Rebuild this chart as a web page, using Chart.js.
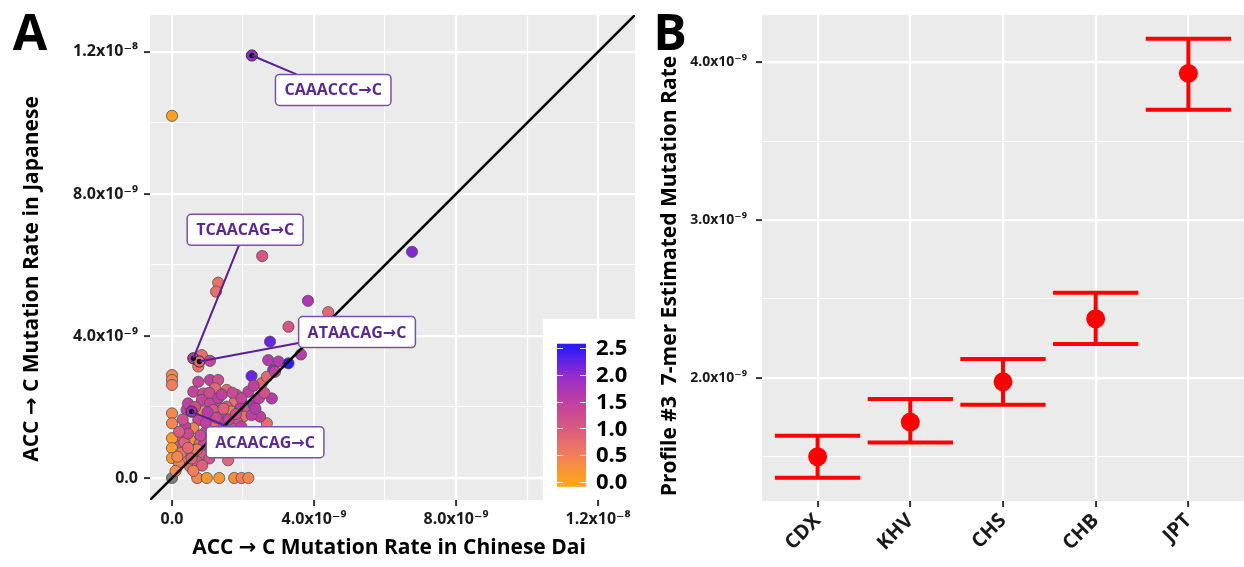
<!DOCTYPE html>
<html>
<head>
<meta charset="utf-8">
<script src="https://cdn.jsdelivr.net/npm/chart.js@4.4.0/dist/chart.umd.min.js"></script>
<style>
  html, body { margin: 0; padding: 0; background: #fff; }
  #wrap { position: relative; width: 1244px; height: 567px; overflow: hidden; }
  #panelA { position: absolute; left: 0; top: 0; }
  #panelB { position: absolute; left: 645px; top: 0; }
</style>
</head>
<body>
<div id="wrap">
  <canvas id="panelA" width="645" height="567" style="width:645px;height:567px"></canvas>
  <canvas id="panelB" width="599" height="567" style="width:599px;height:567px"></canvas>
</div>
<script>
// ---------- Panel A data (rates in units of 1e-9) ----------
const daiRate = [0, 6.76, 2.54, 1.30, 1.24, 3.83, 4.40, 3.28, 2.76, 0.84, 1.07, 0.74, 2.71, 3.00, 3.28, 3.63,
  2.85, 2.24, 2.53, 2.67, 2.15, 2.81, 2.90, 0, 0, 0, 0.74, 1.07, 1.30, 1.21, 1.54, 0.60, 0.88, 0.84, 1.07,
  1.30, 1.82, 1.77, 2.01, 1.54, 1.35, 1.16, 0.88, 0.41, 0.74, 1.07, 1.45, 1.68, 1.92, 2.15, 2.01, 1.82, 1.40,
  1.16, 0.60, 0.37, 0.27, 0.51, 0.79, 0.18, 0.41, 0.60, 0.84, 0.32, 0.51, 0.70, 0, 0, 0, 0, 0, 0,
  0.71, 0.98, 1.33, 1.75, 1.96, 2.15, 2.67, 2.48, 2.24, 1.25, 1.50, 1.70, 1.95, 1.60, 1.10, 0.95, 0.90, 1.05,
  0.35, 0.45, 0.20, 0.55, 0.25, 0.95, 1.25, 1.60, 1.80, 2.30, 2.45, 2.35, 1.95, 1.70, 1.40, 0.45, 0.65, 1.00,
  0.80, 0.70, 0.45, 0.20, 0.85, 1.45, 1.05, 2.30, 2.60, 0.30, 0.10, 0.15, 0.60, 1.58];
const jptRate = [10.2, 6.37, 6.25, 5.50, 5.25, 4.99, 4.67, 4.26, 3.84, 3.46, 3.30, 3.14, 3.32, 3.28, 3.23, 3.48,
  3.04, 2.87, 2.67, 2.85, 2.43, 2.24, 2.99, 2.90, 2.76, 2.62, 2.71, 2.76, 2.76, 2.53, 2.48, 2.43, 2.38, 2.20, 2.10,
  2.25, 2.34, 2.15, 2.06, 2.01, 1.96, 1.92, 1.87, 1.92, 1.63, 1.68, 1.77, 1.87, 1.96, 1.96, 1.73, 1.59, 1.54,
  1.45, 1.40, 1.45, 1.16, 1.07, 0.98, 0.88, 0.70, 0.79, 0.65, 0.51, 0.32, 0.46, 1.82, 1.54, 1.12, 0.84, 0.56, 0,
  0, 0, 0, 0, 0, 0, 1.54, 1.73, 1.77, 1.30, 1.25, 1.40, 1.45, 1.05, 1.15, 1.30, 0.95, 0.55,
  1.00, 1.25, 0.40, 0.55, 0.70, 1.55, 1.70, 1.65, 1.80, 2.05, 2.25, 1.95, 2.25, 2.40, 2.35, 2.10, 2.00, 1.85,
  1.20, 0.80, 0.85, 1.30, 0.35, 1.95, 2.40, 2.60, 2.40, 1.65, 0.20, 0.60, 0.20, 0.50];
// colour-bar value for each point (null = missing, drawn grey)
const colorVal = [0.05, 2.1, 1.1, 0.7, 0.7, 1.7, 0.8, 1.1, 2.2, 0.7, 1.4, 0.7, 1.6, 1.6, 2.5, 1.6,
  2.0, 2.2, 0.8, 0.8, 1.5, 1.6, 1.5, 0.4, 0.4, 0.5, 1.4, 1.5, 1.2, 0.8, 0.8, 1.4, 1.3, 1.4, 1.4,
  1.5, 1.1, 0.7, 1.6, 1.1, 1.4, 1.1, 0.4, 1.5, 1.4, 1.1, 1.6, 0.4, 1.6, 1.1, 0.7, 1.1, 1.5,
  0.7, 0.4, 1.5, 1.1, 0.3, 0.8, 1.1, 1.0, 1.4, 1.0, 0.7, 0.7, 1.0, 0.4, 0.4, 0.1, 0.1, 0.2, null,
  0.4, 0.2, 0.2, 0.3, 0.5, 0.4, 0.7, 1.5, 1.5, 1.2, 1.4, 1.2, 1.5, 1.3, 1.4, 1.2, 1.3, 1.1,
  0.9, 1.3, 0.5, 0.9, 0.6, 1.5, 1.3, 1.4, 1.2, 1.7, 1.5, 1.6, 1.4, 1.3, 1.5, 1.5, 1.2, 1.6,
  1.3, 0.5, 0.8, 1.0, 0.9, 0.9, 1.3, 1.5, 1.2, 1.2, 0.3, 0.4, 0.5, 0.8];

// labelled 7-mers
const labelNames = ['CAAACCC→C', 'TCAACAG→C', 'ATAACAG→C', 'ACAACAG→C'];
const labDai = [2.25, 0.60, 0.77, 0.55];
const labJpt = [11.9, 3.37, 3.28, 1.87];
const labColor = [2.0, 1.6, 0.8, 1.9];
// where the repelled label boxes sit (data units)
const labelDai = [4.54, 2.06, 5.21, 2.62];
const labelJpt = [10.93, 6.99, 4.11, 1.01];

const axisAMin = -0.62, axisAMax = 13.04;
const axisATicks = [0, 4, 8, 12];
const axisATickLabels = ['0.0', '4.0x10⁻⁹', '8.0x10⁻⁹', '1.2x10⁻⁸'];
const axisAMinor = [2, 6, 10];

const legendTicks = [0, 0.5, 1.0, 1.5, 2.0, 2.5];
const legendLabels = ['0.0', '0.5', '1.0', '1.5', '2.0', '2.5'];

// ---------- Panel B data ----------
const populations = ['CDX', 'KHV', 'CHS', 'CHB', 'JPT'];
const rateMean = [1.50, 1.72, 1.975, 2.375, 3.93];
const rateLow = [1.367, 1.59, 1.83, 2.215, 3.70];
const rateHigh = [1.633, 1.867, 2.12, 2.54, 4.15];
const axisBTicks = [2, 3, 4];
const axisBTickLabels = ['2.0x10⁻⁹', '3.0x10⁻⁹', '4.0x10⁻⁹'];
const axisBMinor = [1.5, 2.5, 3.5];

// ---------- styling ----------
const FONT = '"Open Sans", "DejaVu Sans", sans-serif';
const colorStops = [
    [0.0, [255, 164, 28]],
    [0.5, [243, 126, 92]],
    [1.0, [218, 90, 128]],
    [1.5, [192, 64, 162]],
    [2.0, [146, 44, 206]],
    [2.5, [46, 26, 250]]
];

function colorFor(v) {
    if (v === null) return '#7f7f7f';
    if (v <= colorStops[0][0]) return 'rgb(' + colorStops[0][1].join(',') + ')';
    for (let i = 1; i < colorStops.length; i++) {
        if (v <= colorStops[i][0]) {
            const [a, ca] = colorStops[i - 1];
            const [b, cb] = colorStops[i];
            const t = (v - a) / (b - a);
            const c = ca.map((k, j) => Math.round(k + (cb[j] - k) * t));
            return 'rgb(' + c.join(',') + ')';
        }
    }
    return 'rgb(' + colorStops[colorStops.length - 1][1].join(',') + ')';
}

// grey panel background
const panelBg = {
    id: 'panelBg',
    beforeDraw(chart) {
        const {ctx, chartArea: a} = chart;
        ctx.save();
        ctx.fillStyle = '#ebebeb';
        ctx.fillRect(a.left, a.top, a.right - a.left, a.bottom - a.top);
        ctx.restore();
    }
};

// axis titles and panel letters
const textItems = {
    id: 'textItems',
    afterDraw(chart, args, opts) {
        const ctx = chart.ctx;
        ctx.save();
        ctx.fillStyle = '#000';
        ctx.textAlign = 'center';
        ctx.textBaseline = 'middle';
        for (const it of opts.items) {
            ctx.save();
            ctx.font = it.font;
            ctx.translate(it.x, it.y);
            ctx.rotate(it.rot || 0);
            ctx.fillText(it.text, 0, 0);
            ctx.restore();
        }
        ctx.restore();
    }
};

// repel labels + colour bar for panel A
const overlayA = {
    id: 'overlayA',
    afterDatasetsDraw(chart) {
        const {ctx, scales: {x, y}, chartArea} = chart;
        ctx.save();
        ctx.font = 'bold 16px ' + FONT;
        labelNames.forEach((name, i) => {
            const px = x.getPixelForValue(labDai[i]), py = y.getPixelForValue(labJpt[i]);
            const cx = x.getPixelForValue(labelDai[i]), cy = y.getPixelForValue(labelJpt[i]);
            const w = ctx.measureText(name).width + 18, h = 31;
            const dx = px - cx, dy = py - cy;
            const tx = dx !== 0 ? Math.abs(w / 2 / dx) : Infinity;
            const ty = dy !== 0 ? Math.abs(h / 2 / dy) : Infinity;
            const t = Math.min(tx, ty);
            ctx.strokeStyle = '#5a1f92';
            ctx.lineWidth = 2;
            ctx.beginPath();
            ctx.moveTo(px, py);
            ctx.lineTo(cx + dx * t, cy + dy * t);
            ctx.stroke();
            ctx.beginPath();
            ctx.roundRect(cx - w / 2, cy - h / 2, w, h, 4);
            ctx.fillStyle = '#ffffff';
            ctx.fill();
            ctx.strokeStyle = '#7b50ad';
            ctx.lineWidth = 1.5;
            ctx.stroke();
            ctx.fillStyle = '#5a2a8e';
            ctx.textAlign = 'center';
            ctx.textBaseline = 'middle';
            ctx.fillText(name, cx, cy + 1);
        });

        // colour bar legend
        const boxL = chartArea.right - 92, boxT = chartArea.bottom - 181;
        ctx.fillStyle = '#ffffff';
        ctx.fillRect(boxL, boxT, chartArea.right - boxL, chartArea.bottom - boxT);
        const barL = boxL + 14, barW = 29;
        const y0 = chartArea.bottom - 18, unit = 53.6;
        const vy = v => y0 - v * unit;
        const grad = ctx.createLinearGradient(0, vy(0), 0, vy(2.5));
        colorStops.forEach(s => grad.addColorStop(s[0] / 2.5, 'rgb(' + s[1].join(',') + ')'));
        ctx.fillStyle = grad;
        ctx.fillRect(barL, vy(2.58), barW, vy(-0.09) - vy(2.58));
        ctx.strokeStyle = 'rgba(255,255,255,0.85)';
        ctx.lineWidth = 1;
        ctx.font = 'bold 22px ' + FONT;
        ctx.fillStyle = '#000';
        ctx.textAlign = 'left';
        ctx.textBaseline = 'middle';
        legendTicks.forEach((v, i) => {
            const yy = Math.round(vy(v)) + 0.5;
            ctx.beginPath();
            ctx.moveTo(barL, yy); ctx.lineTo(barL + 6, yy);
            ctx.moveTo(barL + barW - 6, yy); ctx.lineTo(barL + barW, yy);
            ctx.stroke();
            ctx.fillText(legendLabels[i], barL + 39, vy(v) + 1);
        });
        ctx.restore();
    }
};

// error bars for panel B
const errorBars = {
    id: 'errorBars',
    beforeDatasetsDraw(chart) {
        const {ctx, scales: {x, y}} = chart;
        ctx.save();
        ctx.strokeStyle = '#ff0000';
        ctx.lineWidth = 4;
        populations.forEach((p, i) => {
            const xc = x.getPixelForValue(i);
            const xl = x.getPixelForValue(i - 0.46), xr = x.getPixelForValue(i + 0.46);
            const yl = y.getPixelForValue(rateLow[i]), yh = y.getPixelForValue(rateHigh[i]);
            ctx.beginPath();
            ctx.moveTo(xc, yl); ctx.lineTo(xc, yh);
            ctx.moveTo(xl, yl); ctx.lineTo(xr, yl);
            ctx.moveTo(xl, yh); ctx.lineTo(xr, yh);
            ctx.stroke();
        });
        ctx.restore();
    }
};

const tickFont = {family: FONT, size: 16, weight: 'bold'};

function gridFor(major) {
    return {
        color: '#ffffff',
        lineWidth: c => (c.tick && major.includes(c.tick.value)) ? 2.2 : 1.1,
        tickColor: c => (c.tick && major.includes(c.tick.value)) ? '#333333' : 'rgba(0,0,0,0)',
        tickLength: 6,
        tickWidth: 2
    };
}

// keep the plot area fixed: ignore label overflow padding
function fixPadding(s) {
    s.paddingLeft = 0;
    s.paddingRight = 0;
    s.paddingTop = 0;
    s.paddingBottom = 0;
}

// ---------- Panel A chart ----------
const chartA = new Chart(document.getElementById('panelA'), {
    type: 'scatter',
    data: {
        datasets: [
            {
                data: daiRate.map((v, i) => ({x: v, y: jptRate[i]})),
                backgroundColor: colorVal.map(colorFor),
                borderColor: '#505050',
                borderWidth: 0.8,
                pointRadius: 5.6,
                order: 4
            },
            {
                data: labDai.map((v, i) => ({x: v, y: labJpt[i]})),
                backgroundColor: labColor.map(colorFor),
                borderColor: '#303030',
                borderWidth: 1,
                pointRadius: 5.6,
                order: 3
            },
            {
                type: 'line',
                data: [{x: axisAMin, y: axisAMin}, {x: axisAMax, y: axisAMax}],
                borderColor: '#000000',
                borderWidth: 2.6,
                pointRadius: 0,
                order: 2
            },
            {
                data: labDai.map((v, i) => ({x: v, y: labJpt[i]})),
                backgroundColor: '#000000',
                borderWidth: 0,
                pointRadius: 2.6,
                order: 1
            }
        ]
    },
    options: {
        responsive: false,
        animation: false,
        events: [],
        layout: {autoPadding: false, padding: {top: 15, right: 10, left: 0, bottom: 0}},
        plugins: {
            legend: {display: false},
            tooltip: {enabled: false},
            textItems: {items: [
                {text: 'A', x: 30, y: 36, font: 'bold 50px ' + FONT},
                {text: 'ACC → C Mutation Rate in Chinese Dai', x: 389, y: 548, font: 'bold 21px ' + FONT},
                {text: 'ACC → C Mutation Rate in Japanese', x: 32, y: 279, rot: -Math.PI / 2, font: 'bold 21px ' + FONT}
            ]}
        },
        scales: {
            x: {
                type: 'linear',
                min: axisAMin,
                max: axisAMax,
                afterBuildTicks: s => { s.ticks = axisATicks.concat(axisAMinor).sort((a, b) => a - b).map(v => ({value: v})); },
                afterFit: s => { s.height = 67; fixPadding(s); },
                ticks: {
                    font: tickFont, color: '#1a1a1a', padding: 4,
                    callback: v => { const i = axisATicks.indexOf(v); return i >= 0 ? axisATickLabels[i] : ''; }
                },
                grid: gridFor(axisATicks),
                border: {display: false}
            },
            y: {
                type: 'linear',
                min: axisAMin,
                max: axisAMax,
                afterBuildTicks: s => { s.ticks = axisATicks.concat(axisAMinor).sort((a, b) => a - b).map(v => ({value: v})); },
                afterFit: s => { s.width = 150; fixPadding(s); },
                ticks: {
                    font: tickFont, color: '#1a1a1a', padding: 6,
                    callback: v => { const i = axisATicks.indexOf(v); return i >= 0 ? axisATickLabels[i] : ''; }
                },
                grid: gridFor(axisATicks),
                border: {display: false}
            }
        }
    },
    plugins: [panelBg, overlayA, textItems]
});

// ---------- Panel B chart ----------
const chartB = new Chart(document.getElementById('panelB'), {
    type: 'scatter',
    data: {
        datasets: [{
            data: populations.map((p, i) => ({x: i, y: rateMean[i]})),
            backgroundColor: '#ff0000',
            borderWidth: 0,
            pointRadius: 9.5
        }]
    },
    options: {
        responsive: false,
        animation: false,
        events: [],
        layout: {autoPadding: false, padding: {top: 15, right: 0, left: 0, bottom: 0}},
        plugins: {
            legend: {display: false},
            tooltip: {enabled: false},
            textItems: {items: [
                {text: 'B', x: 25, y: 36, font: 'bold 50px ' + FONT},
                {text: 'Profile #3  7-mer Estimated Mutation Rate', x: 25, y: 276, rot: -Math.PI / 2, font: 'bold 21px ' + FONT}
            ]}
        },
        scales: {
            x: {
                type: 'linear',
                min: -0.6,
                max: populations.length - 0.4,
                afterBuildTicks: s => { s.ticks = populations.map((p, i) => ({value: i})); },
                afterFit: s => { s.height = 66; fixPadding(s); },
                ticks: {
                    font: {family: FONT, size: 20, weight: 'bold'}, color: '#1a1a1a', padding: 2,
                    minRotation: 45, maxRotation: 45, autoSkip: false,
                    callback: v => populations[v]
                },
                grid: gridFor(populations.map((p, i) => i)),
                border: {display: false}
            },
            y: {
                type: 'linear',
                min: 1.22,
                max: 4.30,
                afterBuildTicks: s => { s.ticks = axisBTicks.concat(axisBMinor).sort((a, b) => a - b).map(v => ({value: v})); },
                afterFit: s => { s.width = 117; fixPadding(s); },
                ticks: {
                    font: {family: FONT, size: 14, weight: 'bold'}, color: '#1a1a1a', padding: 9,
                    callback: v => { const i = axisBTicks.indexOf(v); return i >= 0 ? axisBTickLabels[i] : ''; }
                },
                grid: gridFor(axisBTicks),
                border: {display: false}
            }
        }
    },
    plugins: [panelBg, errorBars, textItems]
});
</script>
</body>
</html>
